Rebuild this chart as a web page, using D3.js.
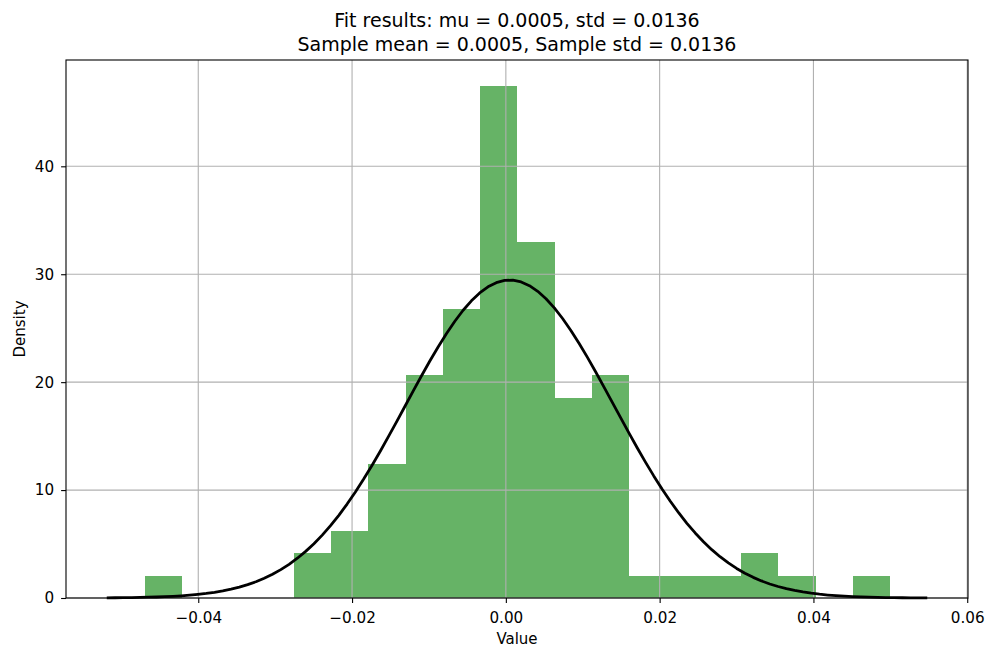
<!DOCTYPE html>
<html>
<head>
<meta charset="utf-8">
<script src="https://cdn.jsdelivr.net/npm/d3@7"></script>
<style>
  html, body { margin: 0; padding: 0; background: #fff; }
  svg { display: block; font-family: "DejaVu Sans", sans-serif; }
</style>
</head>
<body>
<svg id="chart" width="986" height="647"></svg>
<script>
// ---- data ----
const binStart = -0.04697;        // left edge of first bin
const binWidth = 0.004847;        // width of each bin
const densities = [2.06, 0, 0, 0, 4.13, 6.19, 12.38, 20.63, 26.82, 47.45,
                   33.01, 18.57, 20.63, 2.06, 2.06, 2.06, 4.13, 2.06, 0, 2.06];
const fitMu = 0.0005;
const fitStd = 0.01354;           // peak read at ~29.5
const curveRange = [-0.0519, 0.0548];
const curveSamples = 100;
const xTicks = [-0.04, -0.02, 0.00, 0.02, 0.04, 0.06];
const yTicks = [0, 10, 20, 30, 40];
const xDomain = [-0.0572, 0.0601];
const yDomain = [0, 49.85];
const titleLines = ["Fit results: mu = 0.0005, std = 0.0136",
                    "Sample mean = 0.0005, Sample std = 0.0136"];

// ---- layout ----
const W = 986, H = 647;
const m = {left: 66, right: 18, top: 60, bottom: 49};
const iw = W - m.left - m.right, ih = H - m.top - m.bottom;

const svg = d3.select("#chart");
const g = svg.append("g").attr("transform", `translate(${m.left},${m.top})`);

const x = d3.scaleLinear().domain(xDomain).range([0, iw]);
const y = d3.scaleLinear().domain(yDomain).range([ih, 0]);

const bins = densities.map((d, i) => ({x0: binStart + i * binWidth, x1: binStart + (i + 1) * binWidth, v: d}));

// bars
g.append("g").selectAll("rect").data(bins.filter(b => b.v > 0)).join("rect")
  .attr("x", d => x(d.x0))
  .attr("width", d => x(d.x1) - x(d.x0))
  .attr("y", d => y(d.v))
  .attr("height", d => y(0) - y(d.v))
  .attr("fill", "#008000")
  .attr("fill-opacity", 0.6)
  .attr("shape-rendering", "crispEdges");

// grid (above bars, below line)
const grid = g.append("g").attr("stroke", "#b0b0b0").attr("stroke-width", 1.1);
grid.selectAll(".vx").data(xTicks).join("line")
  .attr("x1", d => x(d)).attr("x2", d => x(d)).attr("y1", 0).attr("y2", ih);
grid.selectAll(".hy").data(yTicks).join("line")
  .attr("y1", d => y(d)).attr("y2", d => y(d)).attr("x1", 0).attr("x2", iw);

// normal pdf curve from fitted parameters
const pdf = v => Math.exp(-0.5 * ((v - fitMu) / fitStd) ** 2) / (fitStd * Math.sqrt(2 * Math.PI));
const xs = d3.range(curveSamples).map(i => curveRange[0] + (curveRange[1] - curveRange[0]) * i / (curveSamples - 1));
g.append("path").datum(xs)
  .attr("d", d3.line().x(d => x(d)).y(d => y(pdf(d))))
  .attr("fill", "none").attr("stroke", "#000").attr("stroke-width", 2.78)
  .attr("stroke-linejoin", "round");

// axes
const fmtX = d => d3.format(".2f")(d).replace("-", "\u2212");
const xAxis = g.append("g").attr("transform", `translate(0,${ih})`)
  .call(d3.axisBottom(x).tickValues(xTicks).tickFormat(fmtX).tickSizeOuter(0).tickSize(4.9).tickPadding(4.9));
const yAxis = g.append("g")
  .call(d3.axisLeft(y).tickValues(yTicks).tickFormat(d3.format("d")).tickSizeOuter(0).tickSize(4.9).tickPadding(7));
[xAxis, yAxis].forEach(a => {
  a.select(".domain").remove();
  a.selectAll("line").attr("stroke", "#000").attr("stroke-width", 1.1);
  a.selectAll("text").attr("font-size", 15.2).attr("fill", "#000").attr("font-family", "DejaVu Sans");
});
xAxis.selectAll("text").attr("dy", null).attr("y", null).attr("transform", null)
  .attr("y", 622.7 - m.top - ih).attr("dominant-baseline", null);

// spines
g.append("rect").attr("x", 0).attr("y", 0).attr("width", iw).attr("height", ih)
  .attr("fill", "none").attr("stroke", "#000").attr("stroke-width", 1.1);

// titles / labels
const cx = m.left + iw / 2;
svg.append("text").attr("x", cx).attr("y", 26.7).attr("text-anchor", "middle")
  .attr("font-size", 19).text(titleLines[0]);
svg.append("text").attr("x", cx).attr("y", 50.7).attr("text-anchor", "middle")
  .attr("font-size", 19).text(titleLines[1]);
svg.append("text").attr("x", cx).attr("y", 643.5).attr("text-anchor", "middle")
  .attr("font-size", 15).text("Value");
svg.append("text").attr("transform", `translate(25,${m.top + ih / 2}) rotate(-90)`)
  .attr("text-anchor", "middle").attr("font-size", 15).text("Density");
</script>
</body>
</html>
